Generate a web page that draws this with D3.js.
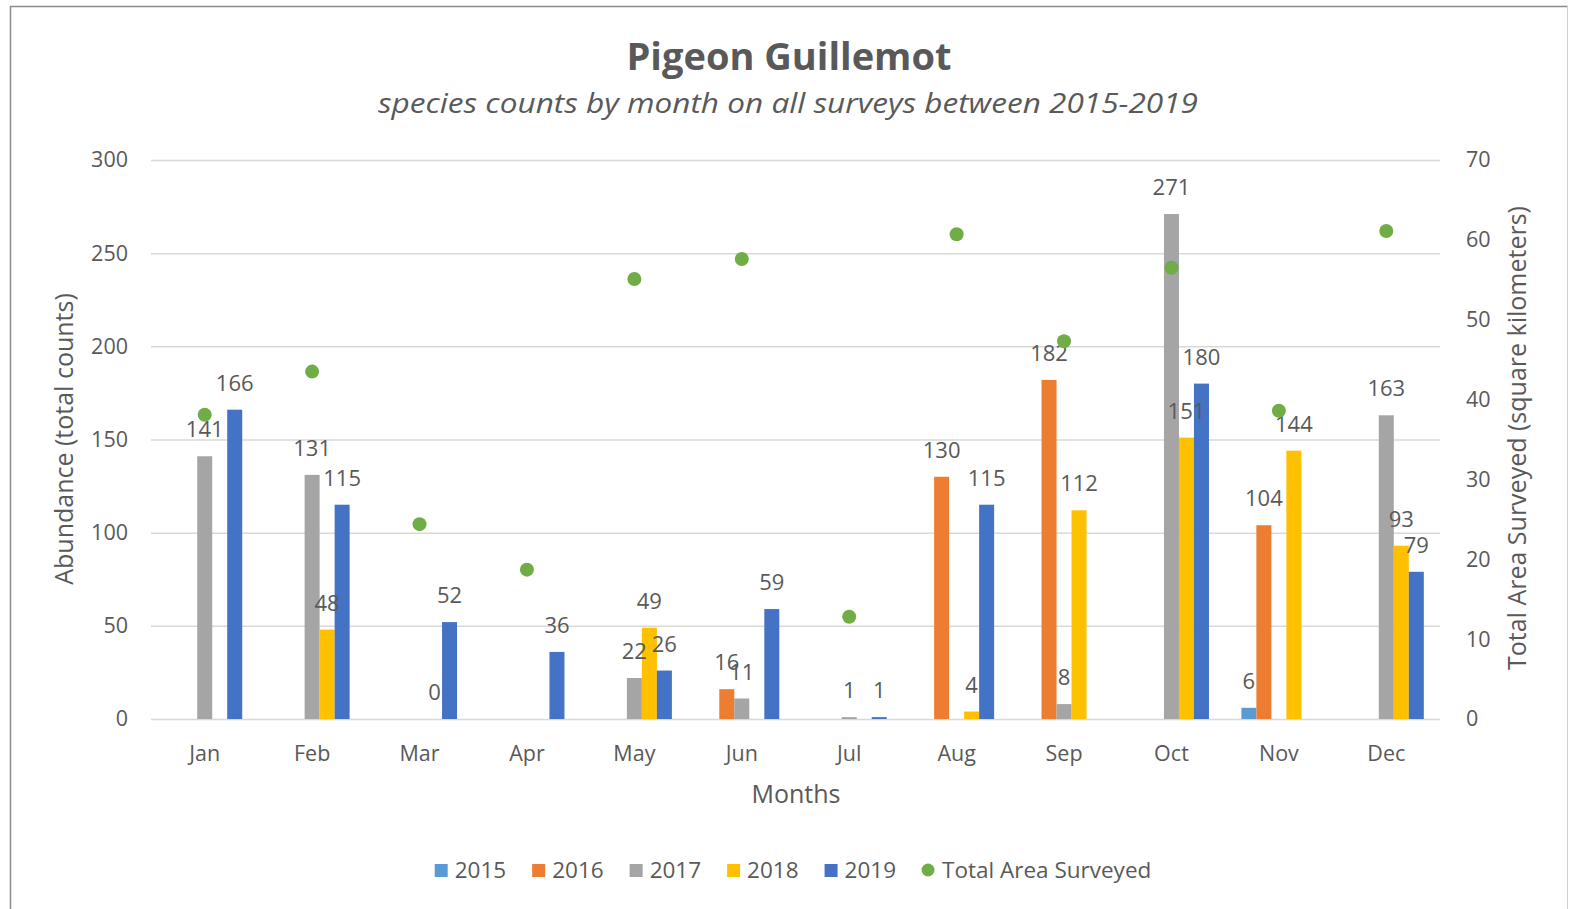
<!DOCTYPE html>
<meta charset="utf-8">
<script src="https://d3js.org/d3.v7.min.js"></script>
<style>
  body { margin: 0; background: #fff; }
  text { font-family: "Open Sans", sans-serif; fill: #595959; }
</style>
<div id="chart"></div>
<script>
// months and series
var months = ["Jan", "Feb", "Mar", "Apr", "May", "Jun", "Jul", "Aug", "Sep", "Oct", "Nov", "Dec"];
var years = ["2015", "2016", "2017", "2018", "2019"];

// counts per year (null = no bar / no label)
var y2015 = [null, null, null, null, null, null, null, null, null, null, 6, null];
var y2016 = [null, null, null, null, null, 16, null, 130, 182, null, 104, null];
var y2017 = [141, 131, null, null, 22, 11, 1, null, 8, 271, null, 163];
var y2018 = [null, 48, 0, null, 49, null, null, 4, 112, 151, 144, 93];
var y2019 = [166, 115, 52, 36, 26, 59, 1, 115, null, 180, null, 79];

// total area surveyed (km2), right axis
var area = [38.1, 43.5, 24.4, 18.7, 55.1, 57.6, 12.8, 60.7, 47.3, 56.5, 38.6, 61.1];

var leftTicks = [0, 50, 100, 150, 200, 250, 300];
var rightTicks = [0, 10, 20, 30, 40, 50, 60, 70];

var colors = { "2015": "#5B9BD5", "2016": "#ED7D31", "2017": "#A5A5A5", "2018": "#FFC000", "2019": "#4472C4" };
var green = "#70AD47";
var yearVals = { "2015": y2015, "2016": y2016, "2017": y2017, "2018": y2018, "2019": y2019 };

var W = 1571, H = 909;
var plot = { left: 151, right: 1440, top: 160, bottom: 719 };

var svg = d3.select("#chart").append("svg")
    .attr("width", W).attr("height", H);

// chart frame (top/left darker, right faint)
svg.append("line").attr("x1", 10).attr("x2", 1568).attr("y1", 6.5).attr("y2", 6.5)
    .attr("stroke", "#8c8c8c").attr("stroke-width", 1.5);
svg.append("line").attr("x1", 10.5).attr("x2", 10.5).attr("y1", 6).attr("y2", H)
    .attr("stroke", "#8c8c8c").attr("stroke-width", 1.5);
svg.append("line").attr("x1", 1567.5).attr("x2", 1567.5).attr("y1", 6).attr("y2", H)
    .attr("stroke", "#d0d0d0").attr("stroke-width", 1);

var x0 = d3.scaleBand().domain(months).range([plot.left, plot.right]);
var x1 = d3.scaleBand().domain(years).range([0, x0.bandwidth()]).paddingOuter(1.08);
var y = d3.scaleLinear().domain([0, 300]).range([plot.bottom, plot.top]);
var yR = d3.scaleLinear().domain([0, 70]).range([plot.bottom, plot.top]);

// gridlines
var grid = svg.append("g")
    .attr("transform", "translate(" + plot.left + ",0)")
    .call(d3.axisLeft(y).tickValues(leftTicks).tickSize(-(plot.right - plot.left)).tickFormat(""));
grid.select(".domain").remove();
grid.selectAll("line").attr("stroke", "#d9d9d9").attr("stroke-width", 1.5);

// left axis
var yAxis = svg.append("g")
    .attr("transform", "translate(" + (plot.left - 23) + ",0)")
    .call(d3.axisLeft(y).tickValues(leftTicks).tickSize(0).tickPadding(0));
yAxis.select(".domain").remove();
yAxis.selectAll("text").style("font-size", "21.5px").attr("fill", "#595959");

// right axis
var yAxisR = svg.append("g")
    .attr("transform", "translate(" + (plot.right + 26) + ",0)")
    .call(d3.axisRight(yR).tickValues(rightTicks).tickSize(0).tickPadding(0));
yAxisR.select(".domain").remove();
yAxisR.selectAll("text").style("font-size", "21.5px").attr("fill", "#595959");

// x axis
var xAxis = svg.append("g")
    .attr("transform", "translate(0," + plot.bottom + ")")
    .call(d3.axisBottom(x0).tickSize(0).tickPadding(27));
xAxis.select(".domain").remove();
xAxis.selectAll("text").style("font-size", "21.5px").attr("fill", "#595959");

// bars
var barData = [];
years.forEach(function (yr) {
    yearVals[yr].forEach(function (v, i) {
        if (v !== null) barData.push({ year: yr, month: months[i], value: v });
    });
});

svg.append("g").selectAll("rect")
    .data(barData)
    .enter().append("rect")
    .attr("x", function (d) { return x0(d.month) + x1(d.year); })
    .attr("y", function (d) { return y(d.value); })
    .attr("width", x1.bandwidth())
    .attr("height", function (d) { return plot.bottom - y(d.value); })
    .attr("fill", function (d) { return colors[d.year]; });

// bar labels
svg.append("g").selectAll("text")
    .data(barData)
    .enter().append("text")
    .attr("x", function (d) { return x0(d.month) + x1(d.year) + x1.bandwidth() / 2; })
    .attr("y", function (d) { return y(d.value) - 19; })
    .attr("text-anchor", "middle")
    .style("font-size", "22px")
    .attr("fill", "#404040")
    .text(function (d) { return d.value; });

// area dots
svg.append("g").selectAll("circle")
    .data(area)
    .enter().append("circle")
    .attr("cx", function (d, i) { return x0(months[i]) + x0.bandwidth() / 2; })
    .attr("cy", function (d) { return yR(d); })
    .attr("r", 7)
    .attr("fill", green);

// titles
svg.append("text")
    .attr("x", 789).attr("y", 70)
    .attr("text-anchor", "middle")
    .attr("textLength", 325).attr("lengthAdjust", "spacingAndGlyphs")
    .style("font-size", "38px").style("font-weight", "bold")
    .text("Pigeon Guillemot");

svg.append("text")
    .attr("x", 788).attr("y", 113)
    .attr("text-anchor", "middle")
    .attr("textLength", 820).attr("lengthAdjust", "spacingAndGlyphs")
    .style("font-size", "28px").style("font-style", "italic")
    .text("species counts by month on all surveys between 2015-2019");

// axis titles
svg.append("text")
    .attr("transform", "translate(73,439) rotate(-90)")
    .attr("text-anchor", "middle")
    .style("font-size", "25px")
    .text("Abundance (total counts)");

svg.append("text")
    .attr("transform", "translate(1526,438) rotate(-90)")
    .attr("text-anchor", "middle")
    .style("font-size", "25px")
    .text("Total Area Surveyed (square kilometers)");

svg.append("text")
    .attr("x", 796).attr("y", 803)
    .attr("text-anchor", "middle")
    .style("font-size", "25px")
    .text("Months");

// legend
var legendItems = years.map(function (yr) { return { label: yr, color: colors[yr], dot: false }; })
    .concat([{ label: "Total Area Surveyed", color: green, dot: true }]);

var legend = svg.append("g");
var lx = 0;
legendItems.forEach(function (it) {
    var g = legend.append("g").attr("transform", "translate(" + lx + ",0)");
    if (it.dot) {
        g.append("circle").attr("cx", 6).attr("cy", 0).attr("r", 6.5).attr("fill", it.color);
    } else {
        g.append("rect").attr("x", 0).attr("y", -6).attr("width", 13).attr("height", 13).attr("fill", it.color);
    }
    var t = g.append("text").attr("x", 20).attr("y", 8)
        .style("font-size", "22.5px").text(it.label);
    lx += 20 + t.node().getComputedTextLength() + 26;
});
var legendW = lx - 26;
legend.attr("transform", "translate(" + (793 - legendW / 2) + ",870)");
</script>
